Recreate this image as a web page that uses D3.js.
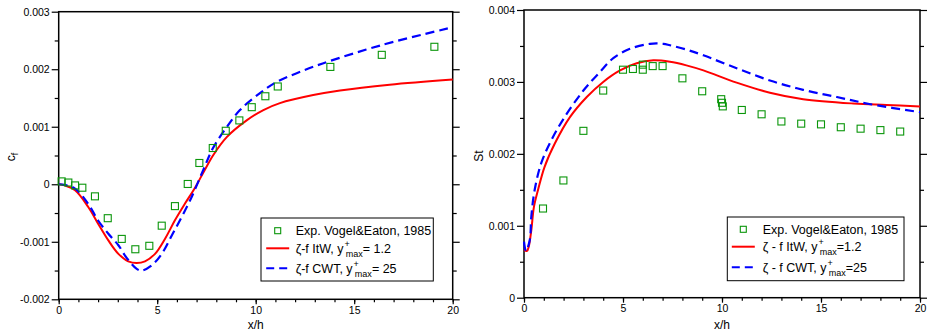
<!DOCTYPE html>
<html>
<head>
<meta charset="utf-8">
<script src="https://cdn.jsdelivr.net/npm/d3@7"></script>
<style>
  body { margin: 0; background: #fff; }
  svg text { font-family: "Liberation Sans", Arial, Helvetica, sans-serif; fill: #000; }
  .axis path { display: none; }
  .axis line { stroke: #000; stroke-width: 1.2px; }
  .frame { fill: none; stroke: #000; stroke-width: 1.5px; }
  .legendbox { fill: #fff; stroke: #000; stroke-width: 1px; }
</style>
</head>
<body>
<div id="chart"></div>
<script>
// ---- skin friction (left panel) ----
var expCfX = [0.15, 0.49, 0.83, 1.2, 1.84, 2.49, 3.2, 3.89, 4.6, 5.23, 5.9, 6.55, 7.14, 7.82, 8.48, 9.17, 9.8, 10.49, 11.12, 13.79, 16.4, 19.07];
var expCf  = [0.00005, 0.00003, -0.00002, -0.00006, -0.00021, -0.00059, -0.00095, -0.00113, -0.00107, -0.00072, -0.00038, 0.000005, 0.00037, 0.00063, 0.00093, 0.00111, 0.00134, 0.00153, 0.0017, 0.00204, 0.00225, 0.00239];

var itwCfX = [0, 0.3, 0.83, 1.5, 2.0, 2.52, 3.03, 3.53, 3.96, 4.38, 4.89, 5.4, 5.9, 6.41, 6.92, 7.4, 7.85, 8.53, 9.54, 10.39, 11.23, 12.92, 14.28, 16.8, 20];
var itwCf  = [0, -0.00002, -0.000105, -0.000395, -0.000685, -0.000976, -0.00121, -0.00134, -0.00137, -0.00134, -0.00121, -0.000946, -0.000627, -0.000336, -0.00006, 0.00024, 0.00051, 0.00082, 0.00111, 0.00129, 0.00141, 0.00155, 0.00163, 0.00173, 0.00182];

var cwtCfX = [0, 0.3, 0.83, 1.5, 2.0, 2.52, 3.03, 3.45, 3.96, 4.21, 4.72, 5.23, 5.74, 6.24, 6.75, 7.34, 7.82, 8.48, 9.2, 10.2, 11.07, 12.08, 13.4, 16.4, 20];
var cwtCf  = [0, -0.00001, -0.000075, -0.00034, -0.00063, -0.00086, -0.00106, -0.00128, -0.00147, -0.0015, -0.00141, -0.00121, -0.00089, -0.00057, -0.00022, 0.00025, 0.00062, 0.00097, 0.00129, 0.00158, 0.00178, 0.00193, 0.0021, 0.00242, 0.00273];

// ---- Stanton number (right panel) ----
var expStX = [0.96, 1.99, 3.0, 4.0, 5.0, 5.5, 6.0, 6.0, 6.5, 7.0, 8.0, 9.0, 9.96, 10.0, 10.04, 11.0, 12.0, 13.0, 14.0, 15.0, 16.0, 17.0, 18.0, 19.0];
var expSt  = [0.00124, 0.00163, 0.00232, 0.00288, 0.00317, 0.00318, 0.00317, 0.00324, 0.00322, 0.00322, 0.00305, 0.00287, 0.00276, 0.00271, 0.00266, 0.00261, 0.00255, 0.00245, 0.00242, 0.00241, 0.00237, 0.00235, 0.00233, 0.00231];

var itwStX = [0, 0.15, 0.24, 0.37, 0.5, 0.71, 1.04, 1.55, 2.32, 3.17, 4.0, 4.85, 5.69, 6.53, 7.37, 8.2, 9.06, 10.74, 12.42, 14.1, 16.63, 18.3, 20];
var itwSt  = [0.00066, 0.00065, 0.00071, 0.00094, 0.00126, 0.0015, 0.00182, 0.00214, 0.00251, 0.00279, 0.003, 0.00316, 0.00326, 0.0033, 0.00328, 0.00323, 0.00316, 0.00299, 0.00285, 0.00276, 0.0027, 0.00268, 0.00266];

var cwtStX = [0, 0.1, 0.29, 0.37, 0.54, 0.87, 1.38, 2.05, 3.0, 3.84, 4.51, 5.35, 6.36, 7.04, 7.37, 8.2, 9.06, 10.74, 12.42, 14.1, 15.8, 17.5, 20];
var cwtSt  = [0.00078, 0.00065, 0.0008, 0.00113, 0.0015, 0.00187, 0.00219, 0.00251, 0.00288, 0.00314, 0.00333, 0.00346, 0.00353, 0.00353, 0.00351, 0.00345, 0.00337, 0.00319, 0.00302, 0.00289, 0.00279, 0.00269, 0.00258];

// ---- ticks and legend texts ----
var xTicks = [0, 5, 10, 15, 20];
var xMinorTicks = d3.range(0, 21, 1);
var cfTicks = [-0.002, -0.001, 0, 0.001, 0.002, 0.003];
var cfMinorTicks = [-0.0015, -0.0005, 0.0005, 0.0015, 0.0025];
var stTicks = [0, 0.001, 0.002, 0.003, 0.004];
var stMinorTicks = [0.0005, 0.0015, 0.0025, 0.0035];

var legendCf = [["Exp. Vogel&Eaton, 1985"], ["\u03b6-f ItW, y", "+", "max", "= 1.2"], ["\u03b6-f CWT, y", "+", "max", "= 25"]];
var legendSt = [["Exp. Vogel&Eaton, 1985"], ["\u03b6 - f ItW, y", "+", "max", "=1.2"], ["\u03b6 - f CWT, y", "+", "max", "=25"]];

var GREEN = "#0a960a", RED = "#ff0000", BLUE = "#0000ff";

var zip = function(xs, ys) { return xs.map(function(x, i) { return {x: x, y: ys[i]}; }); };

// hyphen instead of the unicode minus d3 likes to use
var fmt = function(d) {
    if (Math.abs(d) < 1e-12) { return "0"; }
    return (d < 0 ? "-" : "") + Math.abs(d).toFixed(3);
};

var svg = d3.select("#chart").append("svg")
            .attr("width", 930)
            .attr("height", 336);

var drawPanel = function(p) {
    var xScale = d3.scaleLinear().domain([0, 20]).range([p.left, p.right]);
    var yScale = d3.scaleLinear().domain(p.yDomain).range([p.bottom, p.top]);
    var g = svg.append("g");

    // minor ticks first so major ones sit on top
    g.append("g").attr("class", "axis")
     .attr("transform", "translate(0," + p.bottom + ")")
     .call(d3.axisBottom(xScale).tickValues(xMinorTicks).tickSize(3).tickFormat(""));
    g.append("g").attr("class", "axis")
     .attr("transform", "translate(" + p.left + ",0)")
     .call(d3.axisLeft(yScale).tickValues(p.yMinor).tickSize(4).tickFormat(""));
    g.append("g").attr("class", "axis")
     .attr("transform", "translate(" + p.right + ",0)")
     .call(d3.axisRight(yScale).tickValues(p.yMinor).tickSize(4).tickFormat(""));

    g.append("g").attr("class", "axis")
     .attr("transform", "translate(0," + p.bottom + ")")
     .call(d3.axisBottom(xScale).tickValues(xTicks).tickSize(5).tickPadding(2).tickFormat(d3.format("d")))
     .call(function(a) { a.selectAll("text").style("font-size", "10.5px").style("font-family", null); });
    g.append("g").attr("class", "axis")
     .attr("transform", "translate(" + p.left + ",0)")
     .call(d3.axisLeft(yScale).tickValues(p.yTicks).tickSize(7).tickPadding(2).tickFormat(fmt))
     .call(function(a) { a.selectAll("text").style("font-size", "10.5px").style("font-family", null); });
    g.append("g").attr("class", "axis")
     .attr("transform", "translate(" + p.right + ",0)")
     .call(d3.axisRight(yScale).tickValues(p.yTicks).tickSize(7).tickFormat(""));

    g.append("rect").attr("class", "frame")
     .attr("x", p.left).attr("y", p.top)
     .attr("width", p.right - p.left).attr("height", p.bottom - p.top);

    var line = d3.line()
                 .x(function(d) { return xScale(d.x); })
                 .y(function(d) { return yScale(d.y); })
                 .curve(d3.curveCatmullRom.alpha(0.5));

    g.append("path").datum(p.itw)
     .attr("d", line).attr("fill", "none")
     .attr("stroke", RED).attr("stroke-width", 2);
    g.append("path").datum(p.cwt)
     .attr("d", line).attr("fill", "none")
     .attr("stroke", BLUE).attr("stroke-width", 2.2)
     .attr("stroke-dasharray", "9,5");

    g.append("g").selectAll("rect")
     .data(p.exp)
     .enter().append("rect")
     .attr("x", function(d) { return xScale(d.x) - 3.5; })
     .attr("y", function(d) { return yScale(d.y) - 3.5; })
     .attr("width", 7).attr("height", 7)
     .attr("fill", "none").attr("stroke", GREEN).attr("stroke-width", 1.1);

    // axis titles
    g.append("text")
     .attr("x", (p.left + p.right) / 2).attr("y", 329)
     .attr("text-anchor", "middle").style("font-size", "12px")
     .text("x/h");

    var yl = g.append("text")
              .attr("text-anchor", "middle").style("font-size", "12px")
              .attr("transform", "translate(" + p.yLabelX + "," + p.yLabelY + ") rotate(-90)");
    yl.append("tspan").text(p.yLabel[0]);
    if (p.yLabel[1]) {
        yl.append("tspan").attr("dy", 3).style("font-size", "9px").text(p.yLabel[1]);
    }

    drawLegend(g, p.legend, p.legendBox);
};

var drawLegend = function(g, labels, b) {
    g.append("rect").attr("class", "legendbox")
     .attr("x", b.x).attr("y", b.y).attr("width", b.w).attr("height", b.h);

    labels.forEach(function(parts, i) {
        var cy = b.rows[i];
        if (i === 0) {
            g.append("rect")
             .attr("x", b.sym - 3).attr("y", cy - 3).attr("width", 6).attr("height", 6)
             .attr("fill", "none").attr("stroke", GREEN).attr("stroke-width", 1.1);
        } else {
            g.append("line")
             .attr("x1", b.sym - 11.5).attr("x2", b.sym + 11.5)
             .attr("y1", cy).attr("y2", cy)
             .attr("stroke", i === 1 ? RED : BLUE).attr("stroke-width", 2)
             .attr("stroke-dasharray", i === 1 ? null : "8,5");
        }
        var t = g.append("text")
                 .attr("x", b.text).attr("y", cy + 4.5)
                 .style("font-size", "12.5px");
        t.append("tspan").text(parts[0]);
        if (parts.length > 1) {
            t.append("tspan").attr("dx", 1).attr("dy", -6).style("font-size", "9px").text(parts[1]);
            t.append("tspan").attr("dx", -4).attr("dy", 10).style("font-size", "9px").text(parts[2]);
            t.append("tspan").attr("dy", -4).text(parts[3]);
        }
    });
};

drawPanel({
    left: 58.7, right: 452.7, top: 11.7, bottom: 299.3,
    yDomain: [-0.002, 0.003], yTicks: cfTicks, yMinor: cfMinorTicks,
    yLabel: ["c", "f"], yLabelX: 15, yLabelY: 157,
    exp: zip(expCfX, expCf), itw: zip(itwCfX, itwCf), cwt: zip(cwtCfX, cwtCf),
    legend: legendCf,
    legendBox: {x: 261, y: 218, w: 172.3, h: 63, sym: 277.7, text: 295.7, rows: [230.7, 248.3, 268.3]}
});

drawPanel({
    left: 524, right: 920, top: 10, bottom: 297.7,
    yDomain: [0, 0.004], yTicks: stTicks, yMinor: stMinorTicks,
    yLabel: ["St"], yLabelX: 483, yLabelY: 156,
    exp: zip(expStX, expSt), itw: zip(itwStX, itwSt), cwt: zip(cwtStX, cwtSt),
    legend: legendSt,
    legendBox: {x: 727.3, y: 217, w: 176.7, h: 63.7, sym: 743.3, text: 762.7, rows: [229.3, 246.7, 267.3]}
});
</script>
</body>
</html>
